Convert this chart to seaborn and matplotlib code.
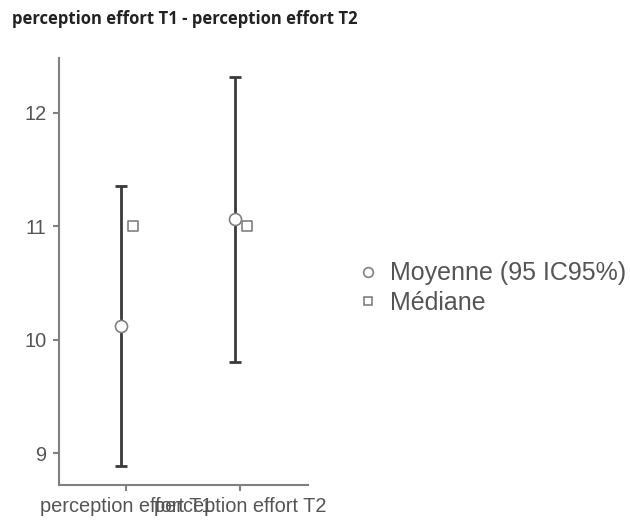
import pandas as pd
import matplotlib
matplotlib.use("Agg")
import matplotlib.pyplot as plt
from matplotlib.lines import Line2D
import seaborn as sns

# values
categories = ["perception effort T1", "perception effort T2"]
means = [10.12, 11.06]
ci_low = [8.89, 9.80]
ci_high = [11.35, 12.31]
medians = [11.0, 11.0]
legend_labels = ["Moyenne (95 IC95%)", "Médiane"]

sns.set_theme(style="white")
plt.rcParams["font.family"] = ["Liberation Sans", "DejaVu Sans"]

grey = "#808080"
dark = "#3a3a3a"

fig = plt.figure(figsize=(6.3, 5.22), dpi=100)
ax = fig.add_axes([59 / 630, 1 - 485 / 522, (308 - 59) / 630, (485 - 58) / 522])

pos = list(range(len(categories)))
df = pd.DataFrame({
    "x": pos, "mean": means, "lo": ci_low, "hi": ci_high, "median": medians,
})
df["x_mean"] = df["x"] - 0.045
df["x_med"] = df["x"] + 0.06

# confidence intervals
ax.errorbar(df["x_mean"], df["mean"],
            yerr=[df["mean"] - df["lo"], df["hi"] - df["mean"]],
            fmt="none", ecolor=dark, elinewidth=2, capsize=4, capthick=2, zorder=2)

sns.scatterplot(data=df, x="x_mean", y="mean", ax=ax, marker="o", s=75,
                color="white", edgecolor=grey, linewidth=1.2, zorder=3, legend=False)
sns.scatterplot(data=df, x="x_med", y="median", ax=ax, marker="s", s=60,
                color="white", edgecolor=grey, linewidth=1.2, zorder=3, legend=False)

ax.set_xlim(-0.59, 1.6)
ax.set_ylim(8.72, 12.48)
ax.set_xticks(pos)
ax.set_xticklabels(categories)
ax.set_yticks([9, 10, 11, 12])
ax.set_xlabel("")
ax.set_ylabel("")

sns.despine(ax=ax)
for side in ["left", "bottom"]:
    ax.spines[side].set_color(grey)
    ax.spines[side].set_linewidth(1.5)
ax.tick_params(axis="both", which="major", direction="out", length=4, width=1.5,
               color=grey, labelcolor="#555555", labelsize=14.4, pad=5,
               bottom=True, left=True)

fig.text(12 / 630, 1 - 19 / 522, "perception effort T1 - perception effort T2",
         fontsize=12, fontweight="bold", color="#222222", va="center", ha="left",
         family=["Open Sans", "DejaVu Sans"])

handles = [
    Line2D([], [], marker="o", linestyle="none", markersize=7,
           markerfacecolor="white", markeredgecolor=grey, markeredgewidth=1.2),
    Line2D([], [], marker="s", linestyle="none", markersize=6,
           markerfacecolor="white", markeredgecolor=grey, markeredgewidth=1.2),
]
fig.legend(handles, legend_labels, loc="center left",
           bbox_to_anchor=(345 / 630, 1 - 288 / 522), frameon=False,
           fontsize=18, labelcolor="#555555", handletextpad=0.4,
           labelspacing=0.22, handlelength=1.0, borderaxespad=0)

fig.savefig("out.png", dpi=100)
